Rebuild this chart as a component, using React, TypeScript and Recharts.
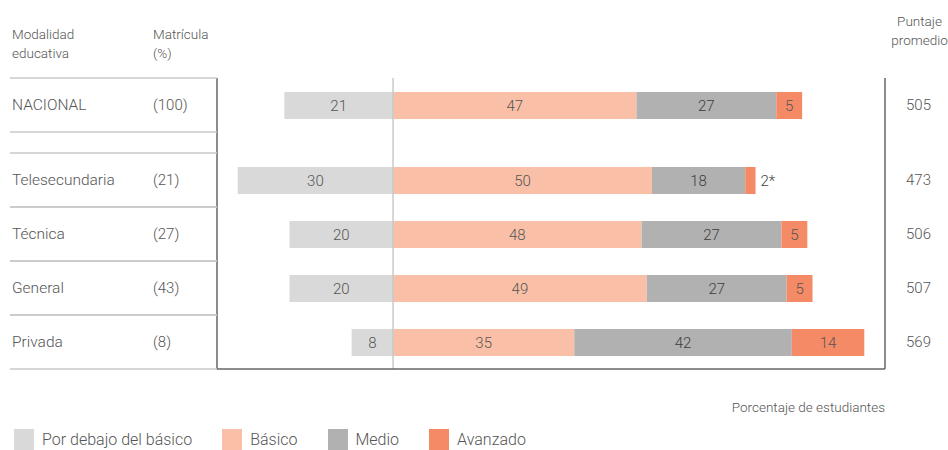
import React from 'react';
import { BarChart, Bar, XAxis, YAxis, ReferenceLine, LabelList } from 'recharts';

const categories = ['NACIONAL', 'Telesecundaria', 'Técnica', 'General', 'Privada'];
const matricula = [100, 21, 27, 43, 8];
const puntaje = [505, 473, 506, 507, 569];
const porDebajo = [21, 30, 20, 20, 8];
const basico = [47, 50, 48, 49, 35];
const medio = [27, 18, 27, 27, 42];
const avanzado = [5, 2, 5, 5, 14];
const avanzadoNota = ['', '*', '', '', ''];

const seriesNames = ['Por debajo del básico', 'Básico', 'Medio', 'Avanzado'];
const seriesColors = ['#d9d9d9', '#fac0a7', '#b1b1b1', '#f58a67'];

const GAP = 21 / 54;
const data = categories.map((c, i) => ({
  name: c,
  idx: i,
  pos: i === 0 ? 0 : i + GAP,
  debajo: -porDebajo[i],
  basico: basico[i],
  medio: medio[i],
  avanzado: avanzado[i],
}));
const positions = data.map((d) => d.pos);

const FONT = 'Roboto, "Open Sans", sans-serif';
const TXT = '#555';

const rowIndex = (v: number) => positions.findIndex((p) => Math.abs(p - v) < 1e-6);

const LeftTick = (props: any) => {
  const { y, payload } = props;
  const i = rowIndex(payload.value);
  if (i < 0) return null;
  return (
    <g>
      <line x1={10} x2={217} y1={y - 27} y2={y - 27} stroke="#c9c9c9" strokeWidth={1.5} />
      <line x1={10} x2={217} y1={y + 27} y2={y + 27} stroke="#c9c9c9" strokeWidth={1.5} />
      <text x={12} y={y} dy="0.35em" fill={TXT} fontSize={15.5} fontFamily={FONT} fontWeight={300}>
        {categories[i]}
      </text>
      <text x={153} y={y} dy="0.35em" fill={TXT} fontSize={15} fontFamily={FONT} fontWeight={300}>
        ({matricula[i]})
      </text>
    </g>
  );
};

const RightTick = (props: any) => {
  const { y, payload } = props;
  const i = rowIndex(payload.value);
  if (i < 0) return null;
  return (
    <text x={931} y={y} dy="0.35em" textAnchor="end" fill={TXT} fontSize={15} fontFamily={FONT} fontWeight={300}>
      {puntaje[i]}
    </text>
  );
};

const makeLabel = (color: string) => (props: any) => {
  const { x, y, width, height, value } = props;
  const w = Math.abs(width);
  const left = Math.min(x, x + width);
  return (
    <text x={left + w / 2} y={y + height / 2} dy="0.35em" textAnchor="middle" fill={color} fontSize={15} fontFamily={FONT} fontWeight={300}>
      {Math.abs(value)}
    </text>
  );
};

const AvanzadoLabel = (props: any) => {
  const { x, y, width, height, value, index } = props;
  const note = avanzadoNota[index] || '';
  if (note) {
    return (
      <text x={x + width + 5} y={y + height / 2} dy="0.35em" textAnchor="start" fill="#444" fontSize={15} fontFamily={FONT} fontWeight={300}>
        {value}{note}
      </text>
    );
  }
  return (
    <text x={x + width / 2} y={y + height / 2} dy="0.35em" textAnchor="middle" fill={TXT} fontSize={15} fontFamily={FONT} fontWeight={300}>
      {value}
    </text>
  );
};

const headStyle: React.CSSProperties = {
  position: 'absolute',
  fontFamily: FONT,
  fontWeight: 300,
  fontSize: 13.5,
  color: TXT,
  lineHeight: '19px',
  whiteSpace: 'nowrap',
};

export default function App() {
  return (
    <div style={{ position: 'absolute', left: 0, top: 0, width: 948, height: 450, background: '#fff' }}>
      <div style={{ ...headStyle, left: 12, top: 25 }}>Modalidad<br />educativa</div>
      <div style={{ ...headStyle, left: 153, top: 25 }}>Matrícula<br />(%)</div>
      <div style={{ ...headStyle, left: 879, width: 81, top: 12, textAlign: 'center' }}>Puntaje<br />promedio</div>
      <div style={{ ...headStyle, right: 63, top: 398, textAlign: 'right' }}>Porcentaje de estudiantes</div>
      <div
        style={{
          position: 'absolute',
          left: 14,
          top: 429,
          display: 'flex',
          alignItems: 'center',
          fontFamily: FONT,
          fontWeight: 300,
          fontSize: 16,
          color: TXT,
        }}
      >
        {seriesNames.map((n, i) => (
          <div key={n} style={{ display: 'flex', alignItems: 'center', marginRight: 30 }}>
            <div style={{ width: 20, height: 21, background: seriesColors[i], marginRight: 8 }} />
            <span>{n}</span>
          </div>
        ))}
      </div>
      <BarChart
        width={948}
        height={450}
        data={data}
        layout="vertical"
        stackOffset="sign"
        margin={{ top: 78, right: 0, bottom: 80, left: 0 }}
      >
        <XAxis type="number" domain={[-34, 95]} ticks={[]} tick={false} tickLine={false} axisLine={{ stroke: '#666', strokeWidth: 1.5 }} height={1} allowDataOverflow />
        <YAxis
          yAxisId="l"
          type="number"
          dataKey="pos"
          domain={[-0.5, 4.5 + GAP]}
          ticks={positions}
          interval={0}
          width={217}
          tick={<LeftTick />}
          tickLine={false}
          axisLine={{ stroke: '#666', strokeWidth: 1.5 }}
          allowDataOverflow
        />
        <YAxis
          yAxisId="r"
          orientation="right"
          type="number"
          dataKey="pos"
          domain={[-0.5, 4.5 + GAP]}
          ticks={positions}
          interval={0}
          width={63}
          tick={<RightTick />}
          tickLine={false}
          axisLine={{ stroke: '#666', strokeWidth: 1.5 }}
          allowDataOverflow
        />
        <ReferenceLine x={0} yAxisId="l" stroke="#c9c9c9" strokeWidth={1.5} />
        <Bar yAxisId="l" dataKey="debajo" name={seriesNames[0]} stackId="a" fill={seriesColors[0]} barSize={27} isAnimationActive={false}>
          <LabelList dataKey="debajo" content={makeLabel(TXT)} />
        </Bar>
        <Bar yAxisId="l" dataKey="basico" name={seriesNames[1]} stackId="a" fill={seriesColors[1]} barSize={27} isAnimationActive={false}>
          <LabelList dataKey="basico" content={makeLabel(TXT)} />
        </Bar>
        <Bar yAxisId="l" dataKey="medio" name={seriesNames[2]} stackId="a" fill={seriesColors[2]} barSize={27} isAnimationActive={false}>
          <LabelList dataKey="medio" content={makeLabel('#3d3d3d')} />
        </Bar>
        <Bar yAxisId="l" dataKey="avanzado" name={seriesNames[3]} stackId="a" fill={seriesColors[3]} barSize={27} isAnimationActive={false}>
          <LabelList dataKey="avanzado" content={<AvanzadoLabel />} />
        </Bar>
      </BarChart>
    </div>
  );
}
